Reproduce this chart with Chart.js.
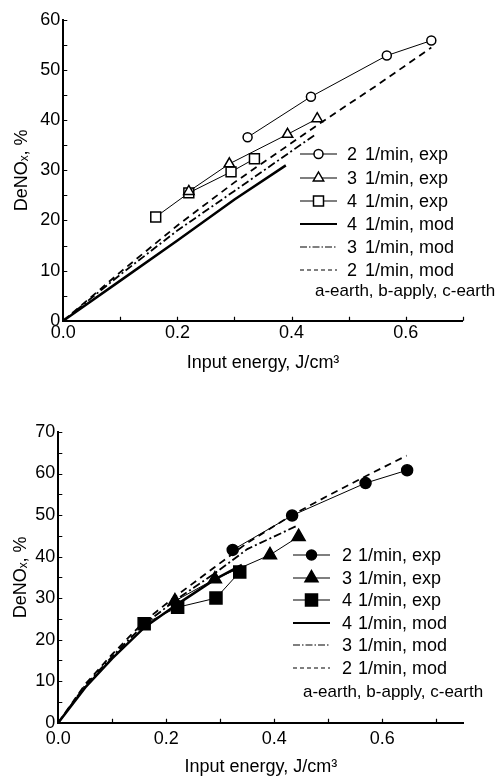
<!DOCTYPE html>
<html lang="en">
<head>
<meta charset="UTF-8">
<title>DeNOx vs input energy</title>
<script src="https://cdn.jsdelivr.net/npm/chart.js"></script>
<style>
    body { margin: 0; background: #fff; font-family: 'Liberation Sans', Arial, sans-serif; }
    #page { position: relative; width: 502px; height: 778px; overflow: hidden; }
    canvas { position: absolute; left: 0; }
    .lg { position: absolute; height: 20px; font-size: 18px; line-height: 20px; color: #000; white-space: nowrap; }
    .lg.note { font-size: 17px; }
    .lg svg { position: absolute; left: 0; top: 0; }
    .lg span { position: absolute; top: 0; }
</style>
</head>
<body>
<div id="page">
    <canvas id="topChart" width="502" height="390" style="top:0"></canvas>
    <canvas id="bottomChart" width="502" height="388" style="top:390px"></canvas>
</div>

<script>
    // --- top panel: open symbols ---
    const topExp2X = [0.323, 0.434, 0.567, 0.645];
    const topExp2Y = [36.6, 44.7, 52.9, 55.9];
    const topExp3X = [0.22, 0.291, 0.393, 0.445];
    const topExp3Y = [25.8, 31.3, 37.2, 40.3];
    const topExp4X = [0.162, 0.22, 0.294, 0.335];
    const topExp4Y = [20.7, 25.5, 29.7, 32.3];
    const topMod4X = [0, 0.1, 0.2, 0.3, 0.39];
    const topMod4Y = [0, 8, 16, 24.2, 31];
    const topMod3X = [0, 0.1, 0.2, 0.3, 0.44];
    const topMod3Y = [0, 9.2, 18, 25.9, 37];
    const topMod2X = [0, 0.1, 0.2, 0.3, 0.45, 0.55, 0.645];
    const topMod2Y = [0, 9.7, 19, 27.6, 39.4, 47, 54.5];

    // --- bottom panel: filled symbols ---
    const botExp2X = [0.323, 0.433, 0.569, 0.646];
    const botExp2Y = [41.6, 49.9, 57.7, 60.8];
    const botExp3X = [0.216, 0.29, 0.392, 0.445];
    const botExp3Y = [29.3, 34.6, 40.4, 44.8];
    const botExp4X = [0.159, 0.221, 0.292, 0.336];
    const botExp4Y = [23.8, 27.8, 30.0, 36.3];
    const botMod4X = [0, 0.05, 0.1, 0.16, 0.22, 0.29, 0.34];
    const botMod4Y = [0, 8.5, 15.5, 23, 28.5, 34.5, 38];
    const botMod3X = [0, 0.05, 0.1, 0.16, 0.22, 0.29, 0.35, 0.44];
    const botMod3Y = [0, 9, 16, 23.8, 29.8, 36, 41.8, 47.3];
    const botMod2X = [0, 0.05, 0.1, 0.16, 0.22, 0.29, 0.35, 0.43, 0.5, 0.57, 0.645];
    const botMod2Y = [0, 9.3, 16.5, 24.5, 30.7, 37.5, 43.3, 49.8, 54.7, 59.4, 64.3];

    // --- axes and legend text ---
    const xTicks = [0, 0.2, 0.4, 0.6];
    const yTicksTop = [0, 10, 20, 30, 40, 50, 60];
    const yTicksBottom = [0, 10, 20, 30, 40, 50, 60, 70];
    const legendRates = ['2', '3', '4', '4', '3', '2'];
    const legendKinds = ['exp', 'exp', 'exp', 'mod', 'mod', 'mod'];
    const legendNote = 'a-earth, b-apply, c-earth';

    const FONT = "'Liberation Sans', Arial, sans-serif";
    Chart.defaults.font.family = FONT;
    Chart.defaults.font.size = 18;
    Chart.defaults.color = '#000';

    const pts = (xs, ys) => xs.map((x, i) => ({ x: x, y: ys[i] }));

    function expSet(xs, ys, style, r, filled) {
        return {
            data: pts(xs, ys), showLine: true, borderColor: '#000', borderWidth: 1,
            pointStyle: style, pointRadius: r, pointBorderWidth: 1.5,
            pointBorderColor: '#000', pointBackgroundColor: filled ? '#000' : '#fff'
        };
    }
    function modSet(xs, ys, dash, w) {
        return { data: pts(xs, ys), showLine: true, borderColor: '#000', borderWidth: w, borderDash: dash, pointRadius: 0 };
    }

    // small tick marks pointing into the plot
    const innerTicks = {
        id: 'innerTicks',
        afterDraw(chart) {
            const { ctx, chartArea: a, scales } = chart;
            ctx.save();
            ctx.strokeStyle = '#000';
            ctx.lineWidth = 1.2;
            ctx.beginPath();
            for (let i = 0; i * 0.1 <= scales.x.max + 1e-9; i++) {
                const px = Math.round(scales.x.getPixelForValue(i * 0.1)) + 0.5;
                ctx.moveTo(px, a.bottom); ctx.lineTo(px, a.bottom - 4);
            }
            for (let i = 0; i * 5 <= scales.y.max + 1e-9; i++) {
                const py = Math.round(scales.y.getPixelForValue(i * 5)) + 0.5;
                ctx.moveTo(a.left, py); ctx.lineTo(a.left + 4, py);
            }
            ctx.stroke();
            ctx.restore();
        }
    };

    function makeChart(id, datasets, o) {
        return new Chart(document.getElementById(id), {
            type: 'scatter',
            data: { datasets: datasets },
            plugins: [innerTicks],
            options: {
                responsive: false,
                animation: false,
                layout: { padding: { left: 0, right: o.right, top: o.top, bottom: 0 } },
                plugins: { legend: { display: false }, tooltip: { enabled: false } },
                scales: {
                    x: {
                        type: 'linear', min: 0, max: o.xMax,
                        grid: { display: false, drawTicks: false },
                        border: { display: true, color: '#000', width: 2 },
                        afterBuildTicks: s => { s.ticks = xTicks.map(v => ({ value: v })); },
                        afterFit: s => { s.height = o.xAxisH; },
                        ticks: { padding: o.xTickPad, maxRotation: 0, callback: v => v.toFixed(1) },
                        title: { display: true, text: 'Input energy, J/cm³', padding: { top: 0, bottom: o.xTitlePad } }
                    },
                    y: {
                        type: 'linear', min: 0, max: o.yMax,
                        grid: { display: false, drawTicks: false },
                        border: { display: true, color: '#000', width: 2 },
                        afterBuildTicks: s => { s.ticks = o.yTicks.map(v => ({ value: v })); },
                        afterFit: s => { s.width = o.left; },
                        ticks: { padding: 3 },
                        title: { display: true, text: 'DeNOₓ, %', padding: { top: o.yTitlePad, bottom: 0 } }
                    }
                }
            }
        });
    }

    makeChart('topChart', [
        expSet(topExp2X, topExp2Y, 'circle', 4.5, false),
        expSet(topExp3X, topExp3Y, 'triangle', 6, false),
        expSet(topExp4X, topExp4Y, 'rect', 7, false),
        modSet(topMod4X, topMod4Y, [], 2.5),
        modSet(topMod3X, topMod3Y, [8, 3, 2, 3], 1.8),
        modSet(topMod2X, topMod2Y, [7, 5], 1.8)
    ], { xMax: 0.7, yMax: 60, yTicks: yTicksTop, left: 63.3, right: 39.3, top: 20, xAxisH: 69.3, xTickPad: 2, xTitlePad: 16.2, yTitlePad: 11.5 });

    makeChart('bottomChart', [
        expSet(botExp2X, botExp2Y, 'circle', 5.5, true),
        expSet(botExp3X, botExp3Y, 'triangle', 7.5, true),
        expSet(botExp4X, botExp4Y, 'rect', 8.5, true),
        modSet(botMod4X, botMod4Y, [], 2.5),
        modSet(botMod3X, botMod3Y, [8, 3, 2, 3], 1.8),
        modSet(botMod2X, botMod2Y, [7, 5], 1.8)
    ], { xMax: 0.75, yMax: 70, yTicks: yTicksBottom, left: 58.3, right: 38.7, top: 42, xAxisH: 55.3, xTickPad: 6, xTitlePad: 0.5, yTitlePad: 10 });

    // --- html legends placed inside the plots ---
    function sampleSvg(i, filled, w) {
        const mid = w / 2;
        const fill = filled ? '#000' : '#fff';
        let s = '';
        if (i < 3) {
            s += `<line x1="0" y1="10" x2="${w}" y2="10" stroke="#000" stroke-width="1.2"/>`;
            if (i === 0) s += `<circle cx="${mid}" cy="10" r="${filled ? 5 : 4.5}" fill="${fill}" stroke="#000" stroke-width="1.5"/>`;
            if (i === 1) { const r = filled ? 7.5 : 6; s += `<polygon points="${mid},${10 - r} ${mid + r * 0.866},${10 + r / 2} ${mid - r * 0.866},${10 + r / 2}" fill="${fill}" stroke="#000" stroke-width="1.5"/>`; }
            if (i === 2) { const h = filled ? 6 : 5; s += `<rect x="${mid - h}" y="${10 - h}" width="${2 * h}" height="${2 * h}" fill="${fill}" stroke="#000" stroke-width="1.5"/>`; }
        } else if (i === 3) {
            s += `<line x1="0" y1="10" x2="${w}" y2="10" stroke="#000" stroke-width="2"/>`;
        } else if (i === 4) {
            s += `<line x1="0" y1="10" x2="${w}" y2="10" stroke="#000" stroke-width="1.2" stroke-dasharray="7 2 1.5 2"/>`;
        } else {
            s += `<line x1="0" y1="10" x2="${w}" y2="10" stroke="#000" stroke-width="1.2" stroke-dasharray="4 3"/>`;
        }
        return `<svg width="${w}" height="20">${s}</svg>`;
    }

    function addLegend(c) {
        const page = document.getElementById('page');
        legendRates.forEach((rate, i) => {
            const row = document.createElement('div');
            row.className = 'lg';
            row.style.left = c.sampleX + 'px';
            row.style.top = (c.firstY + i * c.step - 10) + 'px';
            row.innerHTML = sampleSvg(i, c.filled, c.sampleW) +
                `<span style="left:${c.numX - c.sampleX}px">${rate}</span>` +
                `<span style="left:${c.textX - c.sampleX}px">1/min, ${legendKinds[i]}</span>`;
            page.appendChild(row);
        });
        const n = document.createElement('div');
        n.className = 'lg note';
        n.style.left = c.noteX + 'px';
        n.style.top = (c.noteY - 10) + 'px';
        n.textContent = legendNote;
        page.appendChild(n);
    }

    addLegend({ sampleX: 300, sampleW: 37, numX: 347, textX: 365, firstY: 154.4, step: 23.1, noteX: 315, noteY: 290.7, filled: false });
    addLegend({ sampleX: 293, sampleW: 37, numX: 342, textX: 358, firstY: 555, step: 22.6, noteX: 303, noteY: 691.7, filled: true });
</script>
</body>
</html>
